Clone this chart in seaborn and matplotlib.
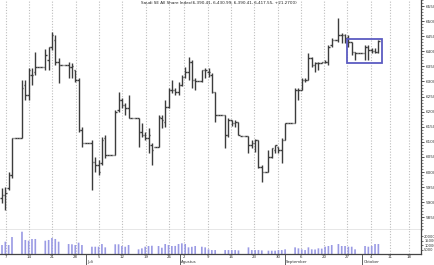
import matplotlib
matplotlib.use("Agg")
import matplotlib.pyplot as plt
import matplotlib.patches as mpatches
import matplotlib.transforms as mtransforms
import numpy as np
import pandas as pd
import seaborn as sns

# ---------------- data ----------------
title = "Saudi SE All Share Index(6,390.41, 6,430.99, 6,390.41, 6,417.55, +21.2700)"

opens = [5914, 5924, 5948, 5990, 6113, 6113, 6113, 6289, 6255, 6322,
         6332, 6348, 6348, 6348, 6371, 6414, 6438, 6365, 6355, 6355,
         6355, 6348, 6338, 6305, 6140, 6097, 6097, 6097, 6034, 6024,
         6030, 6113, 6057, 6057, 6057, 6206, 6239, 6222, 6212, 6179,
         6179, 6179, 6133, 6123, 6113, 6090, 6083, 6083, 6179, 6166,
         6216, 6272, 6272, 6265, 6289, 6315, 6332, 6365, 6305, 6302,
         6302, 6338, 6332, 6322, 6265, 6189, 6189, 6189, 6123, 6173,
         6163, 6166, 6120, 6120, 6120, 6090, 6097, 6106, 6017, 6000,
         6000, 6050, 6073, 6083, 6073, 6106, 6163, 6163, 6163, 6272,
         6272, 6305, 6305, 6378, 6355, 6361, 6361, 6365, 6365, 6421,
         6438, 6438, 6454, 6454, 6447, 6431, 6398, 6394, 6394, 6394,
         6414, 6404, 6401, 6398]
highs = [5948, 5951, 6000, 6113, 6113, 6113, 6305, 6305, 6345, 6345,
         6398, 6348, 6348, 6408, 6414, 6464, 6454, 6378, 6355, 6355,
         6365, 6361, 6338, 6312, 6150, 6097, 6097, 6106, 6050, 6040,
         6116, 6123, 6057, 6057, 6206, 6265, 6245, 6229, 6255, 6179,
         6179, 6179, 6163, 6133, 6146, 6097, 6083, 6189, 6189, 6239,
         6279, 6305, 6279, 6298, 6322, 6348, 6381, 6371, 6312, 6302,
         6338, 6345, 6345, 6328, 6265, 6189, 6189, 6189, 6179, 6173,
         6173, 6166, 6120, 6120, 6120, 6106, 6110, 6106, 6024, 6000,
         6073, 6080, 6090, 6083, 6113, 6163, 6163, 6163, 6279, 6279,
         6312, 6312, 6394, 6381, 6365, 6365, 6365, 6371, 6421, 6444,
         6438, 6510, 6461, 6457, 6454, 6431, 6398, 6394, 6394, 6421,
         6421, 6411, 6411, 6438]
lows = [5898, 5875, 5941, 5981, 6113, 6113, 6113, 6239, 6239, 6289,
        6322, 6348, 6348, 6338, 6338, 6404, 6355, 6295, 6355, 6355,
        6312, 6312, 6298, 6133, 6083, 6097, 6097, 5941, 6000, 5990,
        6024, 6047, 6057, 6057, 6057, 6199, 6212, 6189, 6179, 6179,
        6179, 6083, 6116, 6106, 6063, 6024, 6083, 6083, 6146, 6150,
        6212, 6262, 6255, 6255, 6285, 6312, 6305, 6279, 6272, 6302,
        6298, 6312, 6315, 6262, 6166, 6189, 6189, 6080, 6116, 6153,
        6150, 6123, 6120, 6120, 6063, 6080, 6067, 6014, 5967, 6000,
        6000, 6047, 6063, 6063, 6030, 6106, 6163, 6163, 6163, 6239,
        6272, 6298, 6305, 6348, 6332, 6338, 6361, 6361, 6355, 6414,
        6438, 6431, 6428, 6428, 6414, 6388, 6371, 6394, 6394, 6371,
        6371, 6394, 6394, 6394]
closes = [5924, 5931, 5990, 6113, 6113, 6113, 6279, 6255, 6338, 6322,
          6348, 6348, 6348, 6388, 6414, 6454, 6365, 6355, 6355, 6355,
          6348, 6351, 6305, 6140, 6097, 6097, 6097, 6034, 6024, 6000,
          6106, 6057, 6057, 6057, 6199, 6239, 6222, 6212, 6179, 6179,
          6179, 6133, 6123, 6113, 6123, 6073, 6083, 6183, 6173, 6216,
          6272, 6272, 6265, 6289, 6315, 6332, 6365, 6305, 6302, 6302,
          6338, 6338, 6332, 6265, 6189, 6189, 6189, 6123, 6173, 6163,
          6166, 6123, 6120, 6120, 6090, 6097, 6106, 6017, 6000, 6000,
          6050, 6080, 6090, 6073, 6106, 6163, 6163, 6163, 6272, 6272,
          6305, 6305, 6378, 6355, 6361, 6361, 6365, 6365, 6414, 6438,
          6438, 6454, 6454, 6444, 6431, 6398, 6394, 6394, 6394, 6414,
          6404, 6401, 6398, 6434]
volumes = [10000, 13700, 10000, 18900, 0, 0, 24800, 15600, 14800, 16700,
           16700, 0, 0, 14800, 15600, 17800, 16700, 13700, 0, 0,
           11100, 10800, 10000, 12600, 10000, 0, 0, 8100, 8100, 8100,
           11100, 7400, 0, 0, 10800, 10800, 8900, 8100, 10000, 0,
           0, 5200, 6300, 8100, 8900, 9200, 0, 8900, 7000, 11100,
           10000, 8900, 9000, 11100, 11900, 11100, 7400, 8000, 8900, 0,
           8100, 7400, 5200, 4400, 4400, 0, 0, 4400, 4400, 4400,
           4400, 4000, 0, 0, 7400, 4400, 4400, 4400, 4000, 0,
           3700, 3700, 3700, 4400, 4400, 5200, 0, 0, 7400, 6300,
           5200, 4400, 7400, 5200, 5000, 6300, 6000, 8100, 8900, 10000,
           0, 11100, 8900, 8900, 8100, 8100, 5200, 0, 0, 8900,
           8100, 8900, 11100, 11100]

week_pos = [1.2, 8.1, 15.1, 22.1, 29.1, 36.1, 43.1, 50.1, 54.7, 61.8,
            68.8, 75.8, 82.8, 89.8, 96.8, 103.6, 110.8, 116.5, 122.2]
week_labels = ["7", "14", "21", "28", "5", "12", "19", "26", "2", "9",
               "16", "23", "30", "6", "20", "27", "4", "11", "18"]
month_pos = [25.3, 53.4, 84.9, 108.1]
month_labels = ["Juli", "Agustus", "September", "Oktober"]
price_ticks = [6550, 6500, 6450, 6400, 6350, 6300, 6250, 6200, 6150,
               6100, 6050, 6000, 5950, 5900, 5850]
vol_ticks = [5000, 10000, 15000, 20000]
box_x = [103.6, 114.1]
box_y = [6361, 6441]

# ---------------- figure ----------------
sns.set_theme(style="white")
plt.rcParams['font.family'] = ['DejaVu Sans']

W, H = 435, 265
fig = plt.figure(figsize=(W / 100, H / 100), dpi=100)
fig.patch.set_facecolor('white')
ax = fig.add_axes([0 / W, 1 - 230 / H, 421 / W, 230 / H])
axv = fig.add_axes([0 / W, 1 - 254 / H, 421 / W, 24 / H], sharex=ax)

df = pd.DataFrame({"idx": np.arange(len(closes)), "open": opens, "high": highs,
                   "low": lows, "close": closes, "volume": volumes})

bar_col = '#3c3c3c'
ax.vlines(df["idx"], df["low"], df["high"], color=bar_col, lw=1.0)
ax.hlines(df["open"], df["idx"] - 0.45, df["idx"], color=bar_col, lw=1.0)
ax.hlines(df["close"], df["idx"], df["idx"] + 0.45, color=bar_col, lw=1.0)

ax.add_patch(mpatches.Rectangle((box_x[0], box_y[0]), box_x[1] - box_x[0],
                                box_y[1] - box_y[0], fill=False,
                                edgecolor='#5c5cc2', lw=1.3, zorder=5))

sns.barplot(data=df, x="idx", y="volume", native_scale=True, ax=axv,
            color='#9a9ae4', width=0.5, errorbar=None, saturation=1,
            linewidth=0)
for p in axv.patches:
    p.set_snap(False)

ax.set_xlim(-0.6, 125.8)
ax.set_ylim(5808, 6570)
axv.set_ylim(0, 26700)

for a in (ax, axv):
    a.set_facecolor('white')
    a.set_xlabel("")
    a.set_ylabel("")
    for s in ('left', 'top'):
        a.spines[s].set_visible(False)
    for s in ('right', 'bottom'):
        a.spines[s].set_color('#444444')
        a.spines[s].set_linewidth(0.9)
    a.yaxis.tick_right()
    a.grid(axis='x', ls=(0, (1, 1.5)), color='#bdbdbd', lw=0.8)
    a.grid(axis='y', visible=False)

axv.set_xticks(week_pos)
axv.set_xticklabels(week_labels)
ax.tick_params(axis='x', which='both', length=0, labelbottom=False)
axv.tick_params(axis='x', which='major', length=0, width=0.6, pad=0.6,
                labelsize=2.8, colors='#333333', direction='out')

ax.set_yticks(price_ticks)
ax.set_yticklabels([str(p) for p in price_ticks])
ax.yaxis.set_minor_locator(matplotlib.ticker.MultipleLocator(10))
ax.tick_params(axis='y', which='major', length=2.2, width=0.6, pad=1.0,
               labelsize=3.0, colors='#333333', right=True, left=False)
ax.tick_params(axis='y', which='minor', length=1.2, width=0.5,
               colors='#555555', right=True, left=False)

axv.set_yticks(vol_ticks)
axv.set_yticklabels([str(v) for v in vol_ticks])
axv.tick_params(axis='y', which='major', length=1.5, width=0.5, pad=0.8,
                labelsize=2.6, colors='#333333', right=True, left=False)

# month separators and labels
trans = mtransforms.blended_transform_factory(axv.transData, axv.transAxes)
for pos, lab in zip(month_pos, month_labels):
    axv.plot([pos, pos], [0, -0.45], transform=trans, color='#444444',
             lw=0.6, clip_on=False)
    axv.text(pos + 0.4, -0.26, lab, transform=trans, ha='left', va='top',
             fontsize=2.8, color='#333333')

ax.text(0.521, 0.995, title, transform=ax.transAxes, ha='center', va='top',
        fontsize=3, color='#222222')

fig.savefig("out.png", dpi=100, facecolor='white')
